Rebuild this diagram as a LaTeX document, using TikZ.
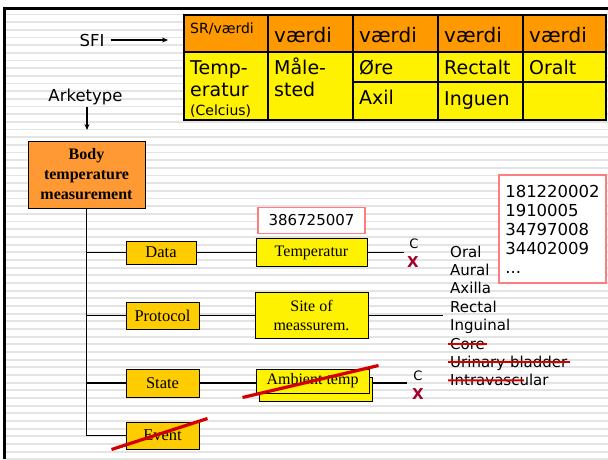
\documentclass[tikz,border=0pt]{standalone}
\usepackage{fontspec}
\setmainfont{Liberation Serif}
\newfontfamily\vsans{DejaVu Sans}
\usetikzlibrary{arrows.meta, positioning, calc}
\definecolor{hdrorange}{HTML}{FF9900}
\definecolor{rootorange}{HTML}{FF9933}
\definecolor{gold}{HTML}{FFCC00}
\definecolor{stripe}{HTML}{E4E4E4}
\definecolor{pinkline}{HTML}{FF7C80}
\definecolor{strikered}{HTML}{D40000}
\definecolor{xred}{HTML}{A0002A}
\newcommand{\fsz}[2]{\fontsize{#1}{#2}\selectfont}

\begin{document}
\begin{tikzpicture}[
  x=1pt, y=-1pt,
  root/.style={rectangle, draw, line width=1pt, fill=rootorange, inner sep=0pt,
               minimum width=117pt, minimum height=67pt, align=center,
               font=\bfseries\fsz{16}{20}},
  cls/.style={rectangle, draw, line width=1pt, fill=gold, inner sep=0pt,
              minimum width=73pt, minimum height=27pt, font=\fsz{16.5}{18}},
  val/.style={rectangle, draw, line width=1pt, fill=yellow, inner sep=0pt,
              align=center, font=\fsz{16}{19}},
  code/.style={rectangle, draw=pinkline, line width=1.5pt, fill=white, inner sep=0pt,
               align=left, font=\vsans\fsz{15}{19}},
  lbl/.style={font=\vsans\fsz{15}{18}, inner sep=0pt, anchor=base west},
  cell/.style={font=\vsans\fsz{19}{22}, inner sep=0pt, anchor=base west},
  link/.style={line width=1.3pt},
  arr/.style={-{Stealth[length=6pt, width=5pt]}, line width=1.3pt},
  textstrike/.style={draw=strikered, line width=2pt},
  crossout/.style={draw=strikered, line width=3.2pt}
]
\useasboundingbox (0,0) rectangle (608,459);

% ruled background and frame
\foreach \k in {0,...,58}
  \draw[stripe, line width=1.8pt] (5,{14.5+7.67*\k}) -- (608,{14.5+7.67*\k});
\draw[line width=3pt] (4.5,459) -- (4.5,8.5) -- (608,8.5);

% SFI table
\fill[hdrorange] (184,15) rectangle (606,52);
\fill[yellow] (184,52) rectangle (606,120);
\foreach \cx in {268,353,438,523}
  \draw[line width=1.2pt] (\cx,15) -- (\cx,120);
\draw[line width=1.2pt] (184,52) -- (606,52);
\draw[line width=1.2pt] (353,82) -- (606,82);
\draw[line width=1.6pt] (184,15) rectangle (606,120);

\node[cell, font=\vsans\fsz{14}{16}] (srhdr) at (190,33) {SR/værdi};
\foreach \cx [count=\i] in {274,359,444,529}
  \node[cell, font=\vsans\fsz{20}{22}] (hdr\i) at (\cx,42) {værdi};
\node[cell] (tempa) at (190,74) {Temp-};
\node[cell] (tempb) at (190,96) {eratur};
\node[cell, font=\vsans\fsz{14}{16}] (celc) at (190,115) {(Celcius)};
\node[cell] (malea) at (274,74) {Måle-};
\node[cell] (maleb) at (274,96) {sted};
\node[cell] (ore) at (359,74) {Øre};
\node[cell] (rectalt) at (444,74) {Rectalt};
\node[cell] (oralt) at (529,74) {Oralt};
\node[cell] (axil) at (359,104) {Axil};
\node[cell] (inguen) at (444,105) {Inguen};

% labels with arrows
\node[font=\vsans\fsz{16.5}{18}, inner sep=3pt] (sfi) at (92,40) {SFI};
\coordinate (sfiend) at (168,40);
\draw[arr] (sfi.east) ++(3,0) -- (sfiend);
\node[font=\vsans\fsz{16.5}{18}, inner sep=2pt] (arke) at (85.5,97) {Arketype};
\coordinate (arkend) at (87,130);
\draw[arr] (arke.south -| arkend) -- (arkend);

% archetype tree
\node[root] (btm) at (86.5,174.5) {Body\\temperature\\measurement};
\node[cls, minimum width=70pt, minimum height=23pt] (data) at (161,252.5) {Data};
\node[cls] (protocol) at (162.5,315.5) {Protocol};
\node[cls, minimum height=28pt] (state) at (162.5,383) {State};
\node[cls] (event) at (162.5,435.5) {Event};

\draw[link] (btm.south) |- (event.west);
\draw[link] (data.west -| btm.south) -- (data.west);
\draw[link] (protocol.west -| btm.south) -- (protocol.west);
\draw[link] (state.west -| btm.south) -- (state.west);

\node[val, minimum width=111pt, minimum height=28pt, right=59pt of data] (temp) {Temperatur};
\node[code, minimum width=107pt, minimum height=26pt, above=4pt of temp] (tempcode) {386725007};
\node[val, minimum width=113pt, minimum height=46pt, right=55pt of protocol] (site)
      {Site of\\meassurem.};
\node[val, minimum width=113pt, minimum height=24pt] (ambback) at (315.5,389) {};
\node[val, minimum width=113pt, minimum height=24pt, right=56pt of state, yshift=2pt] (ambient)
      {Ambient temp};

\draw[link] (data) -- (temp);
\draw[link] (protocol) -- (site);
\draw[link] (state.east) -- (state.east -| ambient.west);

\coordinate (tempc) at (404,252.5);
\coordinate (sitec) at (443,315.5);
\coordinate (statec) at (407,383);
\draw[link] (temp.east) -- (tempc);
\draw[link] (site.east) -- (sitec);
\draw[link] (ambback.east |- statec) -- (statec);

\node[font=\vsans\fsz{13}{14}, inner sep=0pt] (tcl) at (414,244) {C};
\node[font=\vsans\bfseries\fsz{15}{16}, text=xred, inner sep=0pt] (tx) at (413,262) {X};
\node[font=\vsans\fsz{13}{14}, inner sep=0pt] (scl) at (418,376) {C};
\node[font=\vsans\bfseries\fsz{15}{16}, text=xred, inner sep=0pt] (sx) at (418,394) {X};

% site values
\foreach \t/\n [count=\i from 0] in {Oral/oral, Aural/aural, Axilla/axilla, Rectal/rectal,
    Inguinal/inguinal, Core/core, Urinary bladder/urinary, Intravascular/intra}
  \node[lbl] (\n) at (450,{257+18.4*\i}) {\t};
\draw[textstrike] ($(core.base west)+(-2,-5.5)$) -- ($(core.base east)+(2,-5.5)$);
\draw[textstrike] ($(urinary.base west)+(-2,-5.5)$) -- ($(urinary.base east)+(2,-5.5)$);
\draw[textstrike] ($(intra.base west)+(-2,-5.5)$) -- ($(intra.base west)!0.75!(intra.base east)+(0,-5.5)$);

\node[code, minimum width=107pt, minimum height=108pt, font=\vsans\fsz{16.5}{19}] (codes)
      at (552.5,229) {181220002\\1910005\\34797008\\34402009\\...};

% crossed out
\draw[crossout] ($(event.south west)+(-14,0)$) -- ($(event.north east)+(8,-3)$);
\draw[crossout] ($(ambient.south west)+(-13,4)$) -- ($(ambient.north east)+(9,-3)$);
\end{tikzpicture}
\end{document}
